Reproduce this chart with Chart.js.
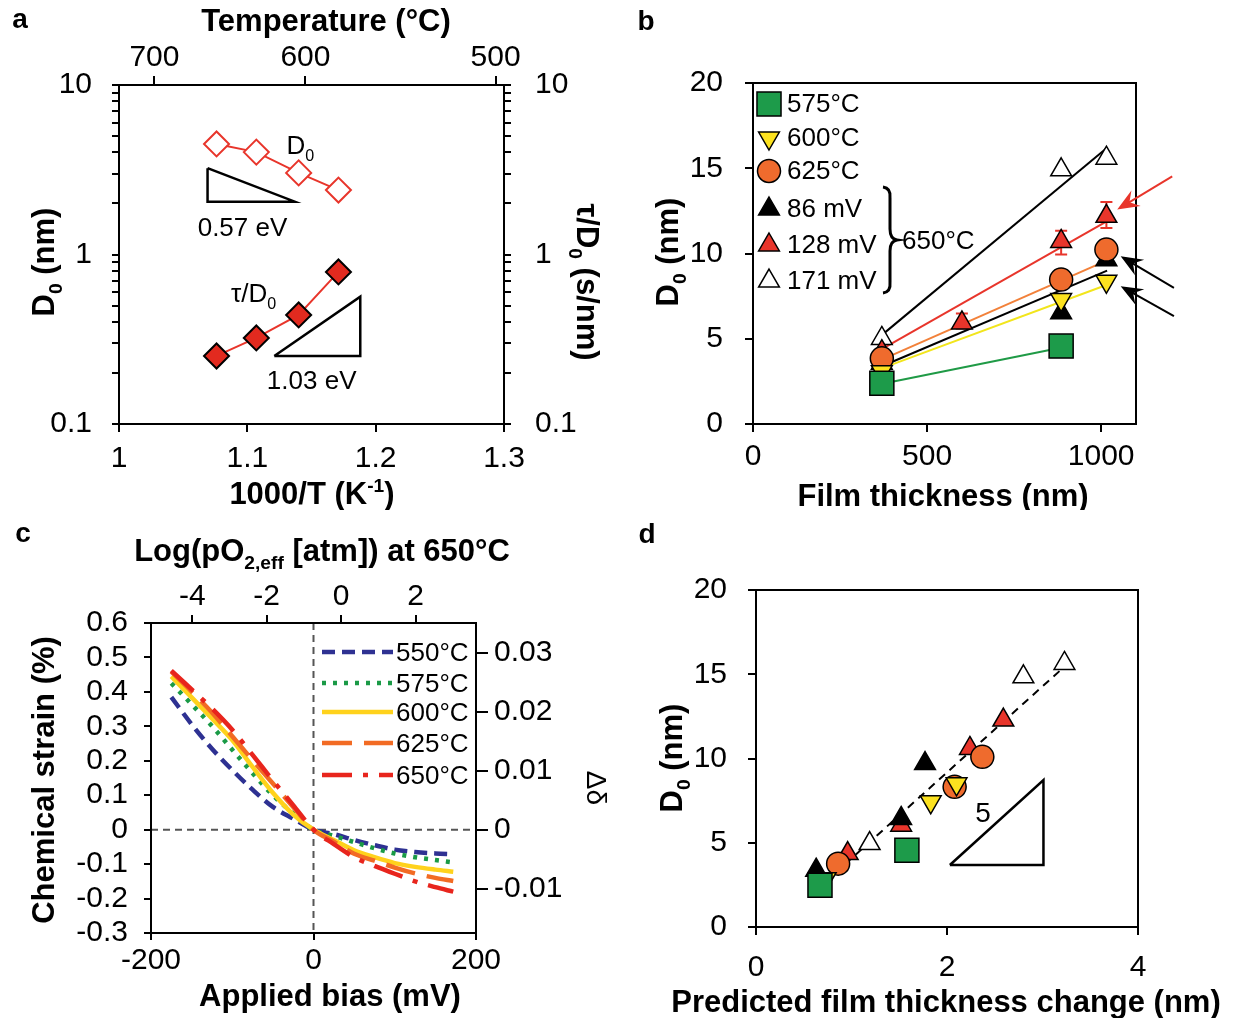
<!DOCTYPE html>
<html>
<head>
<meta charset="utf-8">
<script src="https://cdn.jsdelivr.net/npm/chart.js@4.4.1/dist/chart.umd.min.js"></script>
<style>
  html, body { margin: 0; padding: 0; background: #fff; }
  #page { position: relative; width: 1243px; height: 1018px; overflow: hidden; background: #fff; }
  canvas { position: absolute; }
</style>
</head>
<body>
<div id="page">
  <canvas id="chA" width="620" height="510" style="left:0;top:0"></canvas>
  <canvas id="chB" width="623" height="510" style="left:620px;top:0"></canvas>
  <canvas id="chC" width="620" height="508" style="left:0;top:510px"></canvas>
  <canvas id="chD" width="623" height="508" style="left:620px;top:510px"></canvas>
</div>
<script>
// ---------- data: panel a ----------
const invT       = [1.076, 1.107, 1.140, 1.171];   // 1000/T (K^-1)
const d0Nm       = [4.49, 4.02, 3.03, 2.40];
const tauPerD0   = [0.252, 0.322, 0.440, 0.789];
const tempTicksC = [700, 600, 500];
const invTTicks  = [1, 1.1, 1.2, 1.3];
const tri057X = [1.069, 1.069, 1.137, 1.069];
const tri057Y = [3.23, 2.05, 2.05, 3.23];
const tri103X = [1.121, 1.188, 1.188, 1.121];
const tri103Y = [0.252, 0.252, 0.564, 0.252];

// ---------- data: panel b ----------
const thickNm   = [370, 600, 885, 1015];
const b575 = [2.39, null, 4.57, null];
const b600 = [3.07, null, 7.30, 8.37];
const b625 = [3.85, null, 8.47, 10.23];
const b86  = [3.56, null, 6.52, 9.64];
const b128 = [4.24, 5.93, 10.71, 12.18];
const b171 = [5.02, null, 14.91, 15.59];
const err128Lo = [null, 5.6, 9.94, 11.49];
const err128Hi = [null, 6.48, 11.34, 13.02];
const fitX     = [375, 1017];
const fitX575  = [375, 891];
const fit575 = [2.38, 4.50];
const fit600 = [3.31, 8.17];
const fit625 = [3.82, 9.60];
const fit86  = [3.43, 9.00];
const fit128 = [4.45, 11.90];
const fit171 = [5.30, 16.20];
const arrowTailX = [1204, 1209, 1209];
const arrowTailY = [14.52, 7.98, 6.32];
const arrowTipX  = [1046, 1056, 1056];
const arrowTipY  = [12.58, 9.84, 8.08];

// ---------- data: panel c ----------
const biasMv    = [-175, -150, -125, -100, -75, -50, -25, 0, 25, 50, 75, 100, 125, 150, 172];
const strain550 = [0.385, 0.306, 0.235, 0.173, 0.116, 0.066, 0.032, 0, -0.013, -0.030, -0.045, -0.058, -0.065, -0.069, -0.071];
const strain575 = [0.425, 0.364, 0.301, 0.232, 0.164, 0.100, 0.047, 0, -0.018, -0.036, -0.054, -0.069, -0.080, -0.088, -0.095];
const strain600 = [0.445, 0.384, 0.323, 0.260, 0.182, 0.107, 0.044, 0, -0.030, -0.060, -0.080, -0.097, -0.108, -0.116, -0.122];
const strain625 = [0.459, 0.401, 0.340, 0.271, 0.202, 0.134, 0.066, 0, -0.035, -0.070, -0.090, -0.110, -0.127, -0.140, -0.149];
const strain650 = [0.462, 0.407, 0.352, 0.290, 0.217, 0.143, 0.071, 0, -0.042, -0.080, -0.105, -0.128, -0.150, -0.167, -0.180];
const strainTicks = [-0.3, -0.2, -0.1, 0, 0.1, 0.2, 0.3, 0.4, 0.5, 0.6];
const deltaTicks  = [-0.01, 0, 0.01, 0.02, 0.03];
const logPO2Ticks = [-4, -2, 0, 2];
const strainPerDelta = 17.1;      // % strain per unit of delta
const mvPerDecade = 45.8;         // Nernst slope at 650 C
const mvAtLog0 = 34;

// ---------- data: panel d ----------
const d575x = [0.67, 1.58],             d575y = [2.48, 4.55];
const d600x = [0.73, 1.83, 2.10],       d600y = [2.87, 7.43, 8.50];
const d625x = [0.86, 2.08, 2.37],       d625y = [3.76, 8.32, 10.10];
const d86x  = [0.63, 1.52, 1.77],       d86y  = [3.37, 6.44, 9.70];
const d128x = [0.96, 1.52, 2.24, 2.59], d128y = [4.36, 6.04, 10.60, 12.28];
const d171x = [1.19, 2.80, 3.23],       d171y = [4.95, 14.85, 15.64];
const dFitX = [0.61, 3.21], dFitY = [2.08, 15.35];
const triD5X = [2.03, 3.01, 3.01, 2.03];
const triD5Y = [3.68, 3.68, 8.72, 3.68];

// ---------- common ----------
const FONT = '"Liberation Sans", Arial, Helvetica, sans-serif';
const TICK = 30;
Chart.defaults.font.family = FONT;
Chart.defaults.color = '#000';
Chart.defaults.animation = false;
Chart.defaults.plugins.legend.display = false;
Chart.defaults.plugins.tooltip.enabled = false;

const RED = '#e8352b', ORANGE = '#ef6b2d', YELLOW = '#fce21f', GREEN = '#1d9b4a';

const pts = (xs, ys) => xs.map((x, i) => ({ x, y: ys[i] })).filter(p => p.y !== null);

function axis(o) {
  return {
    type: o.type || 'linear',
    position: o.position,
    min: o.min, max: o.max,
    grid: { display: true, drawOnChartArea: false, drawTicks: true, tickLength: o.tickLength || 8,
            color: '#000', lineWidth: 2 },
    border: { display: true, color: '#000', width: 2 },
    ticks: { display: o.labels !== false, font: { size: o.fontSize || TICK }, color: '#000',
             padding: o.padding === undefined ? 8 : o.padding, maxRotation: 0, minRotation: 0,
             autoSkip: false, callback: o.callback || (v => String(v)) },
    afterBuildTicks: o.ticks ? (s => { s.ticks = o.ticks.map(v => ({ value: v })); }) : undefined,
    afterFit: s => { if (o.size !== undefined) { if (s.isHorizontal()) s.height = o.size; else s.width = o.size; } }
  };
}

function rich(ctx, segs, x, y, size, o) {
  o = o || {};
  const wt = o.bold ? 'bold ' : '';
  const parts = segs.map(s => {
    const t = typeof s === 'string' ? s : s[0];
    const m = typeof s === 'string' ? '' : s[1];
    const fs = m ? size * 0.62 : size;
    ctx.font = wt + fs + 'px ' + FONT;
    return { t, m, fs, w: ctx.measureText(t).width };
  });
  const total = parts.reduce((a, p) => a + p.w, 0);
  ctx.save();
  ctx.translate(x, y);
  if (o.rotate) ctx.rotate(o.rotate);
  ctx.fillStyle = o.color || '#000';
  ctx.textBaseline = 'alphabetic';
  ctx.textAlign = 'left';
  let cx = o.align === 'left' ? 0 : -total / 2;
  const base = size * 0.36;
  parts.forEach(p => {
    ctx.font = wt + p.fs + 'px ' + FONT;
    const dy = p.m === 'sub' ? size * 0.24 : p.m === 'sup' ? -size * 0.38 : 0;
    ctx.fillText(p.t, cx, base + dy);
    cx += p.w;
  });
  ctx.restore();
}

function drawMarker(ctx, m, x, y) {
  const r = m.pointRadius;
  ctx.save();
  ctx.beginPath();
  if (m.pointStyle === 'rect') {
    const h = r * Math.SQRT1_2;
    ctx.rect(x - h, y - h, 2 * h, 2 * h);
  } else if (m.pointStyle === 'circle') {
    ctx.arc(x, y, r, 0, Math.PI * 2);
  } else if (m.pointStyle === 'triangle') {
    const s = m.pointRotation === 180 ? -1 : 1;
    ctx.moveTo(x, y - s * r);
    ctx.lineTo(x + 0.866 * r, y + s * 0.5 * r);
    ctx.lineTo(x - 0.866 * r, y + s * 0.5 * r);
    ctx.closePath();
  }
  ctx.fillStyle = m.pointBackgroundColor;
  ctx.fill();
  ctx.lineWidth = 1.5;
  ctx.strokeStyle = '#000';
  ctx.stroke();
  ctx.restore();
}

const boxPlugin = {
  id: 'box',
  afterDraw(chart) {
    const a = chart.chartArea, ctx = chart.ctx;
    ctx.save();
    ctx.strokeStyle = '#000';
    ctx.lineWidth = 2;
    ctx.strokeRect(a.left, a.top, a.right - a.left, a.bottom - a.top);
    ctx.restore();
  }
};

function panelLetter(ctx, letter, x, y) {
  ctx.save();
  ctx.font = 'bold 28px ' + FONT;
  ctx.fillStyle = '#000';
  ctx.textAlign = 'center';
  ctx.textBaseline = 'middle';
  ctx.fillText(letter, x, y);
  ctx.restore();
}

// marker styles shared by panels b and d
const MK = {
  c575: { pointStyle: 'rect', pointRadius: 17, pointBackgroundColor: GREEN },
  c600: { pointStyle: 'triangle', pointRotation: 180, pointRadius: 12, pointBackgroundColor: YELLOW },
  c625: { pointStyle: 'circle', pointRadius: 11.5, pointBackgroundColor: ORANGE },
  m86:  { pointStyle: 'triangle', pointRadius: 12, pointBackgroundColor: '#000' },
  m128: { pointStyle: 'triangle', pointRadius: 12, pointBackgroundColor: RED },
  m171: { pointStyle: 'triangle', pointRadius: 12, pointBackgroundColor: '#fff' }
};
function markerSet(xs, ys, m, order) {
  return Object.assign({ data: pts(xs, ys), showLine: false, pointBorderColor: '#000',
                         pointBorderWidth: 1.5, order }, m);
}
function lineSet(xs, ys, color, width, dash, order, extra) {
  return Object.assign({ data: pts(xs, ys), showLine: true, pointRadius: 0, borderColor: color,
                         borderWidth: width, borderDash: dash || [], fill: false, order }, extra || {});
}

// ================= panel a =================
const logLabel = v => {
  const l = Math.log10(v);
  return Math.abs(l - Math.round(l)) < 1e-6 ? String(+v.toPrecision(1)) : '';
};
const logTickVals = [];
[0.1, 1].forEach(d => { for (let k = 1; k < 10; k++) logTickVals.push(+(d * k).toPrecision(2)); });
logTickVals.push(10);

new Chart(document.getElementById('chA'), {
  type: 'scatter',
  data: {
    datasets: [
      lineSet(invT, d0Nm, RED, 2, [], 1, { pointRadius: 12.5, pointStyle: 'rectRot',
        pointBackgroundColor: '#fff', pointBorderColor: RED, pointBorderWidth: 2, yAxisID: 'y' }),
      lineSet(invT, tauPerD0, RED, 2, [], 0, { pointRadius: 12.5, pointStyle: 'rectRot',
        pointBackgroundColor: '#e22a1f', pointBorderColor: '#000', pointBorderWidth: 2, yAxisID: 'y2' }),
      lineSet(tri057X, tri057Y, '#000', 2.5, [], 2, { yAxisID: 'y' }),
      lineSet(tri103X, tri103Y, '#000', 2.5, [], 2, { yAxisID: 'y' })
    ]
  },
  options: {
    responsive: false, devicePixelRatio: 1,
    layout: { padding: 0 },
    scales: {
      x: axis({ position: 'bottom', min: 1, max: 1.3, ticks: invTTicks, size: 86, padding: 9, tickLength: 8,
                callback: v => String(+v.toFixed(2)) }),
      xTop: axis({ position: 'top', min: 1, max: 1.3, size: 85, padding: 0, tickLength: 9,
                   ticks: tempTicksC.map(t => 1000 / (t + 273.15)),
                   callback: (v, i) => String(tempTicksC[i]) }),
      y: axis({ type: 'logarithmic', position: 'left', min: 0.1, max: 10, ticks: logTickVals,
                size: 119, padding: 20, tickLength: 7, callback: logLabel }),
      y2: axis({ type: 'logarithmic', position: 'right', min: 0.1, max: 10, ticks: logTickVals,
                 size: 116, padding: 24, tickLength: 7, callback: logLabel })
    }
  },
  plugins: [boxPlugin, {
    id: 'annA',
    afterDraw(chart) {
      const ctx = chart.ctx, sx = chart.scales.x, sy = chart.scales.y;
      const P = (x, y) => [sx.getPixelForValue(x), sy.getPixelForValue(y)];
      let p = P(1.1305, 4.43); rich(ctx, ['D', ['0', 'sub']], p[0], p[1], 26, { align: 'left' });
      p = P(1.0613, 1.46); rich(ctx, ['0.57 eV'], p[0], p[1], 26, { align: 'left' });
      p = P(1.0873, 0.593); rich(ctx, ['τ/D', ['0', 'sub']], p[0], p[1], 26, { align: 'left' });
      p = P(1.1152, 0.182); rich(ctx, ['1.03 eV'], p[0], p[1], 26, { align: 'left' });
      rich(ctx, ['Temperature (°C)'], 326, 20, 31, { bold: true });
      rich(ctx, ['1000/T (K', ['-1', 'sup'], ')'], 312, 493, 31, { bold: true });
      rich(ctx, ['D', ['0', 'sub'], ' (nm)'], 43, 262, 31, { bold: true, rotate: -Math.PI / 2 });
      rich(ctx, ['τ/D', ['0', 'sub'], ' (s/nm)'], 588, 282, 31, { bold: true, rotate: Math.PI / 2 });
      panelLetter(ctx, 'a', 20, 20);
    }
  }]
});

// ================= panel b =================
const legendB = [
  { m: MK.c575, label: '575°C', y: 104 },
  { m: MK.c600, label: '600°C', y: 138 },
  { m: MK.c625, label: '625°C', y: 171 },
  { m: MK.m86,  label: '86 mV', y: 209 },
  { m: MK.m128, label: '128 mV', y: 245 },
  { m: MK.m171, label: '171 mV', y: 281 }
];

new Chart(document.getElementById('chB'), {
  type: 'scatter',
  data: {
    datasets: [
      lineSet(fitX575, fit575, '#1f9a46', 2, [], 20),
      lineSet(fitX, fit600, '#f2e51c', 2, [], 21),
      lineSet(fitX, fit86, '#000', 2, [], 22),
      lineSet(fitX, fit625, '#f2813a', 2, [], 23),
      lineSet(fitX, fit128, RED, 2, [], 24),
      lineSet(fitX, fit171, '#000', 2, [], 25),
      markerSet(thickNm, b575, MK.c575, 0),
      markerSet(thickNm, b600, MK.c600, 1),
      markerSet(thickNm, b625, MK.c625, 2),
      markerSet(thickNm, b86,  MK.m86, 3),
      markerSet(thickNm, b128, MK.m128, 4),
      markerSet(thickNm, b171, MK.m171, 5)
    ]
  },
  options: {
    responsive: false, devicePixelRatio: 1,
    layout: { padding: { top: 83, right: 107, left: 0, bottom: 0 } },
    scales: {
      x: axis({ position: 'bottom', min: 0, max: 1100, ticks: [0, 500, 1000], size: 86, padding: 7 }),
      y: axis({ position: 'left', min: 0, max: 20, ticks: [0, 5, 10, 15, 20], size: 133, padding: 22 })
    }
  },
  plugins: [boxPlugin, {
    id: 'errB',
    beforeDatasetsDraw(chart) {
      const ctx = chart.ctx, sx = chart.scales.x, sy = chart.scales.y;
      ctx.save();
      ctx.strokeStyle = RED;
      ctx.lineWidth = 2;
      thickNm.forEach((t, i) => {
        if (err128Lo[i] === null) return;
        const x = sx.getPixelForValue(t), y1 = sy.getPixelForValue(err128Lo[i]), y2 = sy.getPixelForValue(err128Hi[i]);
        ctx.beginPath();
        ctx.moveTo(x, y1); ctx.lineTo(x, y2);
        ctx.moveTo(x - 6, y1); ctx.lineTo(x + 6, y1);
        ctx.moveTo(x - 6, y2); ctx.lineTo(x + 6, y2);
        ctx.stroke();
      });
      ctx.restore();
    },
    afterDraw(chart) {
      const ctx = chart.ctx, sx = chart.scales.x, sy = chart.scales.y;
      // arrows
      arrowTailX.forEach((_, i) => {
        const x1 = sx.getPixelForValue(arrowTailX[i]), y1 = sy.getPixelForValue(arrowTailY[i]);
        const x2 = sx.getPixelForValue(arrowTipX[i]), y2 = sy.getPixelForValue(arrowTipY[i]);
        const col = i === 0 ? RED : '#000';
        const ang = Math.atan2(y2 - y1, x2 - x1);
        const L = 22, W = 9;
        ctx.save();
        ctx.strokeStyle = col; ctx.fillStyle = col; ctx.lineWidth = 2;
        ctx.beginPath();
        ctx.moveTo(x1, y1);
        ctx.lineTo(x2 - Math.cos(ang) * 10, y2 - Math.sin(ang) * 10);
        ctx.stroke();
        ctx.translate(x2, y2);
        ctx.rotate(ang);
        ctx.beginPath();
        ctx.moveTo(0, 0);
        ctx.lineTo(-L, -W);
        ctx.lineTo(-L * 0.65, 0);
        ctx.lineTo(-L, W);
        ctx.closePath();
        ctx.fill();
        ctx.restore();
      });
      // legend
      legendB.forEach(e => {
        drawMarker(ctx, e.m, 149, e.y);
        ctx.save();
        ctx.font = '26px ' + FONT;
        ctx.fillStyle = '#000';
        ctx.textBaseline = 'middle';
        ctx.fillText(e.label, 167, e.y + 1);
        ctx.restore();
      });
      // brace
      ctx.save();
      ctx.strokeStyle = '#000';
      ctx.lineWidth = 3;
      ctx.beginPath();
      ctx.moveTo(263, 187);
      ctx.quadraticCurveTo(271, 188, 270, 198);
      ctx.lineTo(270, 229);
      ctx.quadraticCurveTo(270, 239, 277, 240);
      ctx.quadraticCurveTo(270, 241, 270, 251);
      ctx.lineTo(270, 282);
      ctx.quadraticCurveTo(271, 292, 263, 293);
      ctx.stroke();
      ctx.restore();
      rich(ctx, ['650°C'], 282, 240, 26, { align: 'left' });
      rich(ctx, ['D', ['0', 'sub'], ' (nm)'], 47, 252, 31, { bold: true, rotate: -Math.PI / 2 });
      rich(ctx, ['Film thickness (nm)'], 323, 495, 31, { bold: true });
      panelLetter(ctx, 'b', 26, 22);
    }
  }]
});

// ================= panel c =================
const curveStyles = [
  { ys: strain550, label: '550°C', color: '#2e3192', dash: [13, 7], cap: 'butt' },
  { ys: strain575, label: '575°C', color: '#1a9a46', dash: [4, 7], cap: 'butt' },
  { ys: strain600, label: '600°C', color: '#ffd21c', dash: [], cap: 'butt' },
  { ys: strain625, label: '625°C', color: '#f26b24', dash: [30, 12], cap: 'butt' },
  { ys: strain650, label: '650°C', color: '#e8251d', dash: [30, 11, 5, 11], cap: 'butt' }
];

new Chart(document.getElementById('chC'), {
  type: 'scatter',
  data: {
    datasets: curveStyles.map((c, i) => lineSet(biasMv, c.ys, c.color, 4.5, c.dash, 4 - i,
      { tension: 0.4, cubicInterpolationMode: 'monotone', borderCapStyle: c.cap }))
  },
  options: {
    responsive: false, devicePixelRatio: 1,
    layout: { padding: 0 },
    scales: {
      x: axis({ position: 'bottom', min: -200, max: 200, ticks: [-200, 0, 200], size: 85, padding: 3, tickLength: 7 }),
      xTop: axis({ position: 'top', min: -200, max: 200, size: 113, padding: 0, tickLength: 8,
                   ticks: logPO2Ticks.map(L => mvAtLog0 + mvPerDecade * L),
                   callback: (v, i) => String(logPO2Ticks[i]) }),
      y: axis({ position: 'left', min: -0.3, max: 0.6, ticks: strainTicks, size: 151, padding: 16, tickLength: 7,
                callback: v => String(Math.round(v * 10) / 10) }),
      y2: axis({ position: 'right', min: -0.3 / strainPerDelta, max: 0.6 / strainPerDelta, ticks: deltaTicks,
                 size: 144, padding: 6, tickLength: 12, callback: v => String(Math.round(v * 100) / 100) })
    }
  },
  plugins: [boxPlugin, {
    id: 'annC',
    beforeDatasetsDraw(chart) {
      const ctx = chart.ctx, a = chart.chartArea, sx = chart.scales.x, sy = chart.scales.y;
      const x0 = sx.getPixelForValue(0), y0 = sy.getPixelForValue(0);
      ctx.save();
      ctx.strokeStyle = '#555';
      ctx.lineWidth = 2;
      ctx.setLineDash([7, 5]);
      ctx.beginPath();
      ctx.moveTo(x0, a.top); ctx.lineTo(x0, a.bottom);
      ctx.moveTo(a.left, y0); ctx.lineTo(a.right, y0);
      ctx.stroke();
      ctx.restore();
    },
    afterDraw(chart) {
      const ctx = chart.ctx;
      const ly = [142, 173, 202, 233, 265];
      curveStyles.forEach((c, i) => {
        ctx.save();
        ctx.strokeStyle = c.color;
        ctx.lineWidth = 4.5;
        ctx.setLineDash(c.dash);
        ctx.beginPath();
        ctx.moveTo(322, ly[i]); ctx.lineTo(393, ly[i]);
        ctx.stroke();
        ctx.restore();
        rich(ctx, [c.label], 396, ly[i], 26, { align: 'left' });
      });
      rich(ctx, ['Log(pO', ['2,eff', 'sub'], ' [atm]) at 650°C'], 322, 40, 31, { bold: true });
      rich(ctx, ['Chemical strain (%)'], 43, 270, 31, { bold: true, rotate: -Math.PI / 2 });
      rich(ctx, ['Applied bias (mV)'], 330, 485, 31, { bold: true });
      rich(ctx, ['Δδ'], 597, 278, 28, { rotate: Math.PI / 2 });
      panelLetter(ctx, 'c', 23, 24);
    }
  }]
});

// ================= panel d =================
new Chart(document.getElementById('chD'), {
  type: 'scatter',
  data: {
    datasets: [
      lineSet(dFitX, dFitY, '#000', 2, [8, 6], 20),
      lineSet(triD5X, triD5Y, '#000', 2.5, [], 21),
      markerSet(d575x, d575y, MK.c575, 0),
      markerSet(d600x, d600y, MK.c600, 1),
      markerSet(d625x, d625y, MK.c625, 2),
      markerSet(d86x, d86y, MK.m86, 3),
      markerSet(d128x, d128y, MK.m128, 4),
      markerSet(d171x, d171y, MK.m171, 5)
    ]
  },
  options: {
    responsive: false, devicePixelRatio: 1,
    layout: { padding: { top: 80, right: 105, left: 0, bottom: 0 } },
    scales: {
      x: axis({ position: 'bottom', min: 0, max: 4, ticks: [0, 2, 4], size: 91, padding: 15 }),
      y: axis({ position: 'left', min: 0, max: 20, ticks: [0, 5, 10, 15, 20], size: 136, padding: 21 })
    }
  },
  plugins: [boxPlugin, {
    id: 'annD',
    afterDraw(chart) {
      const ctx = chart.ctx, sx = chart.scales.x, sy = chart.scales.y;
      rich(ctx, ['5'], sx.getPixelForValue(2.377), sy.getPixelForValue(6.84), 28, {});
      rich(ctx, ['D', ['0', 'sub'], ' (nm)'], 51, 248, 31, { bold: true, rotate: -Math.PI / 2 });
      rich(ctx, ['Predicted film thickness change (nm)'], 326, 491, 31, { bold: true });
      panelLetter(ctx, 'd', 27, 25);
    }
  }]
});
</script>
</body>
</html>
